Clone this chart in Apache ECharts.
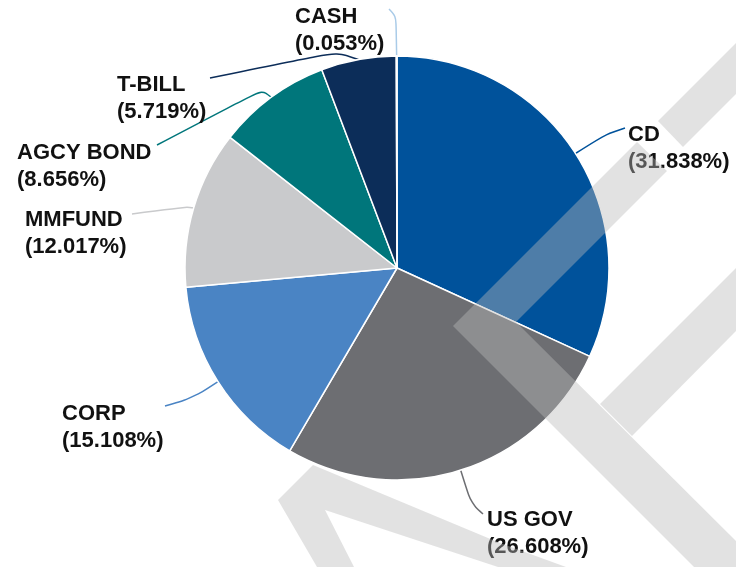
<!DOCTYPE html>
<html>
<head>
<meta charset="utf-8">
<script src="https://cdn.jsdelivr.net/npm/echarts@6/dist/echarts.min.js"></script>
<style>
html,body{margin:0;padding:0;background:#fff;}
#chart{width:736px;height:567px;}
</style>
</head>
<body>
<div id="chart"></div>
<script>
const categories = ['CD', 'US GOV', 'CORP', 'MMFUND', 'AGCY BOND', 'T-BILL', 'CASH'];
const values = [31.838, 26.608, 15.108, 12.017, 8.656, 5.719, 0.053];
const sliceColors = ['#00529b', '#6d6e72', '#4a84c4', '#c9cacc', '#00767b', '#0c2d59', '#a9cbe8'];
// label anchor (left, top) per category
const labelX = [628, 487, 62, 25, 17, 117, 295];
const labelY = [121, 506, 400, 206, 139, 71, 3];
// leader-line bend points (after the slice anchor) per category
const leaderBends = [
  [[606, 134], [625, 128]],
  [[471, 503], [483, 514]],
  [[193, 398], [165, 406]],
  [[187, 207], [132, 214]],
  [[262, 90], [157, 145]],
  [[337, 52], [210, 78]],
  [[396, 16], [389, 9]]
];

const CENTER = [397, 268];
const RADIUS = 212;

const chart = echarts.init(document.getElementById('chart'), null, {renderer: 'canvas'});

function sliceAnchor(i) {
  const total = values.reduce((a, b) => a + b, 0);
  let acc = 0;
  for (let k = 0; k < i; k++) acc += values[k];
  const mid = (acc + values[i] / 2) / total * Math.PI * 2;
  return [CENTER[0] + RADIUS * Math.sin(mid), CENTER[1] - RADIUS * Math.cos(mid)];
}

const wm = 'rgba(185,185,185,0.42)';
const option = {
  animation: false,
  backgroundColor: '#ffffff',
  series: [{
    type: 'pie',
    center: CENTER,
    radius: RADIUS,
    startAngle: 90,
    clockwise: true,
    data: categories.map((c, i) => ({name: c, value: values[i], itemStyle: {color: sliceColors[i]}})),
    itemStyle: {borderColor: '#ffffff', borderWidth: 1.5},
    label: {
      show: true,
      position: 'outside',
      formatter: p => p.name + '\n(' + p.value.toFixed(3) + '%)',
      fontFamily: 'Liberation Sans, Arial, sans-serif',
      fontWeight: 'bold',
      fontSize: 22,
      lineHeight: 27,
      color: '#111111',
      align: 'left'
    },
    labelLine: {show: true, smooth: 0.35, lineStyle: {width: 1.5}},
    labelLayout: function (params) {
      const i = params.dataIndex;
      const start = (params.labelLinePoints && params.labelLinePoints[0]) || sliceAnchor(i);
      return {
        x: labelX[i], y: labelY[i], align: 'left', verticalAlign: 'top',
        labelLinePoints: [start].concat(leaderBends[i])
      };
    }
  }],
  graphic: [
    // upper-right stroke, upper piece
    {type: 'polygon', z: 100, silent: true, shape: {points: [[736,43],[658,121],[683,147],[736,94]]}, style: {fill: wm}},
    // upper-right stroke lower piece + down-right stroke
    {type: 'polygon', z: 100, silent: true, shape: {points: [[637,142],[453,326],[694,567],[736,567],[736,541],[516,322],[667,171]]}, style: {fill: wm}},
    // short up-right stroke
    {type: 'polygon', z: 100, silent: true, shape: {points: [[600,404],[736,268],[736,331],[632,436]]}, style: {fill: wm}},
    // lower-left letter
    {type: 'polygon', z: 100, silent: true, shape: {points: [[278,500],[313,465],[500,543],[566,567],[498,567],[325,510],[354,567],[317,567]]}, style: {fill: wm}}
  ]
};
chart.setOption(option);
</script>
</body>
</html>
